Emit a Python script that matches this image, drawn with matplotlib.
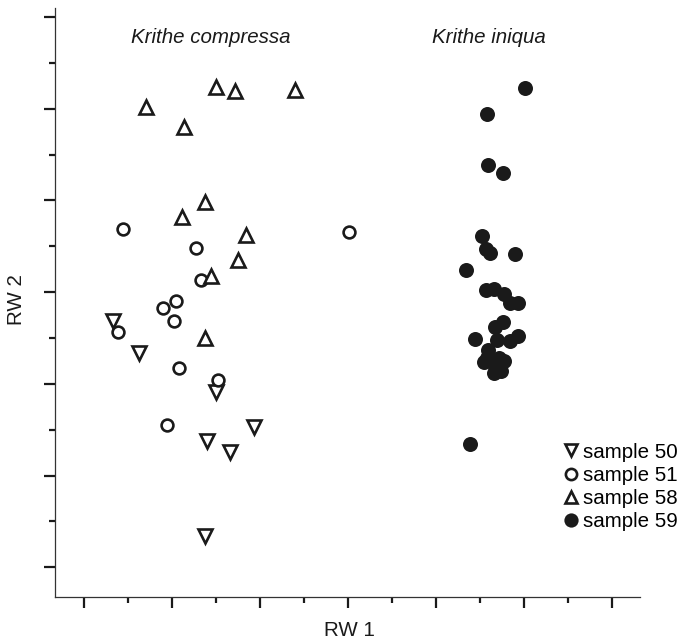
import matplotlib
matplotlib.use("Agg")
import matplotlib.pyplot as plt
from matplotlib.ticker import MultipleLocator

plt.rcParams['font.family'] = ['Liberation Sans', 'DejaVu Sans']

# sample 50 (triangle down)
s50_x = [0.66, 1.24, 3.00, 3.87, 2.785, 3.32, 2.75]
s50_y = [5.36, 4.68, 3.83, 3.05, 2.76, 2.51, 0.69]

# sample 51 (open circle)
s51_x = [0.887, 6.03, 2.54, 2.65, 2.09, 1.80, 2.04, 0.774, 2.155, 3.05, 1.88]
s51_y = [7.38, 7.31, 6.97, 6.26, 5.81, 5.66, 5.36, 5.14, 4.35, 4.08, 3.10]

# sample 58 (triangle up)
s58_x = [1.397, 2.99, 3.43, 4.79, 2.275, 2.74, 2.22, 3.67, 3.50, 2.89, 2.75]
s58_y = [10.04, 10.48, 10.39, 10.41, 9.61, 7.96, 7.645, 7.25, 6.70, 6.36, 4.99]

# sample 59 (filled circle)
s59_x = [10.03, 9.16, 9.185, 9.53, 9.05, 9.14, 9.23, 9.80, 8.685, 9.14, 9.32, 9.55,
         9.69, 9.87, 9.53, 9.345, 8.89, 9.39, 9.69, 9.87, 9.185, 9.16, 9.435, 9.55,
         9.095, 9.345, 9.48, 9.32, 8.78]
s59_y = [10.45, 9.885, 8.77, 8.60, 7.22, 6.94, 6.855, 6.83, 6.48, 6.05, 6.07, 5.96,
         5.765, 5.765, 5.35, 5.24, 4.98, 4.96, 4.935, 5.045, 4.74, 4.56, 4.56, 4.50,
         4.48, 4.39, 4.28, 4.24, 2.69]

labels = ['sample 50', 'sample 51', 'sample 58', 'sample 59']
group_titles = ['Krithe compressa', 'Krithe iniqua']
group_title_x = [2.88, 9.2]

fig = plt.figure(figsize=(6.82, 6.44), dpi=100)
ax = fig.add_axes([55.3/682, 1 - 597.2/644, (640 - 55.3)/682, (597.2 - 8)/644])

kw_open = dict(linestyle='none', markerfacecolor='white', markeredgecolor='#1a1a1a',
               markeredgewidth=1.9)
ax.plot(s50_x, s50_y, marker='v', markersize=9.5, label=labels[0], **kw_open)
ax.plot(s51_x, s51_y, marker='o', markersize=8.5, label=labels[1], **kw_open)
ax.plot(s58_x, s58_y, marker='^', markersize=9.5, label=labels[2], **kw_open)
ax.plot(s59_x, s59_y, marker='o', markersize=10.8, linestyle='none',
        color='#1a1a1a', markeredgewidth=0, label=labels[3])

ax.set_xlim(-0.66, 12.64)
ax.set_ylim(-0.652, 12.196)

ax.xaxis.set_major_locator(MultipleLocator(2))
ax.xaxis.set_minor_locator(MultipleLocator(1))
ax.yaxis.set_major_locator(MultipleLocator(2))
ax.yaxis.set_minor_locator(MultipleLocator(1))
ax.tick_params(which='major', length=8, width=1.6, color='#1a1a1a',
               labelbottom=False, labelleft=False)
ax.tick_params(which='minor', length=4.5, width=1.6, color='#1a1a1a')

for s in ['top', 'right']:
    ax.spines[s].set_visible(False)
for s in ['left', 'bottom']:
    ax.spines[s].set_linewidth(0.9)
    ax.spines[s].set_color('#333333')

for t, x in zip(group_titles, group_title_x):
    ax.text(x, 11.55, t, style='italic', fontsize=14.8, ha='center', va='center',
            color='#1a1a1a')

fig.text(16/682, 1 - 300/644, 'RW 2', rotation=90, ha='center', va='center',
         fontsize=14.8, color='#1a1a1a')
fig.text(349/682, 1 - 631/644, 'RW 1', ha='center', va='center',
         fontsize=14.8, color='#1a1a1a')

leg = ax.legend(loc='lower right', bbox_to_anchor=(1.082, 0.095), frameon=False,
                fontsize=14.8, handlelength=0.6, handletextpad=0.3,
                labelspacing=0.2, borderpad=0, markerscale=0.95)

fig.savefig('out.png', dpi=100)
